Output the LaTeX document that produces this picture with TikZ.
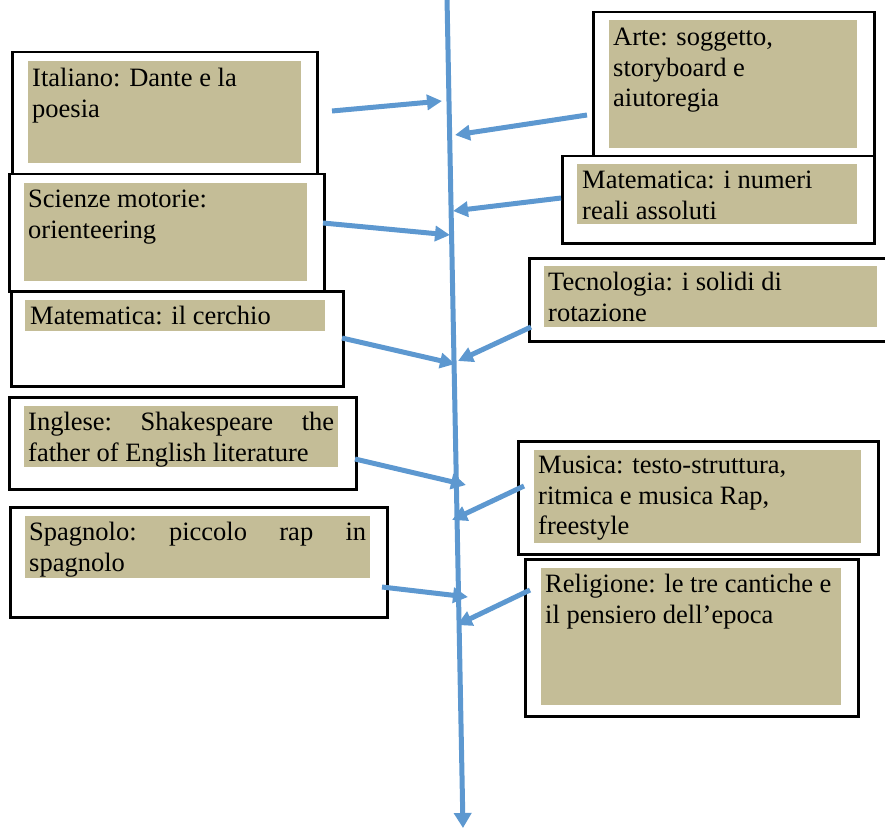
\documentclass[tikz,border=0pt]{standalone}
\usepackage{fontspec}
\setmainfont{Liberation Serif}
\usetikzlibrary{arrows.meta}
\definecolor{tanfill}{RGB}{196,189,151}
\definecolor{arrowblue}{RGB}{93,152,208}
\begin{document}
\begin{tikzpicture}[x=1pt,y=-1pt,
  outerbox/.style={draw=black,line width=2.5pt,fill=white,anchor=north west,inner sep=0pt},
  tanbox/.style={fill=tanfill,anchor=north west,inner sep=0pt},
  label/.style={anchor=north west,inner sep=0pt,align=left,font=\fontsize{26.5}{30.5}\selectfont},
  link/.style={draw=arrowblue,line width=5pt,-{Triangle[length=15pt,width=15pt]}},
  spine/.style={draw=arrowblue,line width=5pt,-{Triangle[length=15pt,width=17pt]}}]
\useasboundingbox (0,0) rectangle (885,829);
% left boxes
\node[outerbox,minimum width=305,minimum height=122] (o1) at (11,51) {};
\node[tanbox,minimum width=273,minimum height=102] (t1) at (28,61) {};
\node[label] (l1) at (32,65) {\strut Italiano: Dante e la\\poesia};
\node[outerbox,minimum width=315,minimum height=117] (o2) at (8,173) {};
\node[tanbox,minimum width=283,minimum height=98] (t2) at (24,183) {};
\node[label] (l2) at (28,186) {\strut Scienze motorie:\\orienteering};
\node[outerbox,minimum width=332,minimum height=95] (o3) at (10,290) {};
\node[tanbox,minimum width=300,minimum height=31] (t3) at (25,300) {};
\node[label] (l3) at (30,303) {\strut Matematica: il cerchio};
\node[outerbox,minimum width=347,minimum height=92] (o4) at (8,396) {};
\node[tanbox,minimum width=314,minimum height=61] (t4) at (24,406) {};
\node[label] (l4) at (28,409) {\strut\hbox to 306pt{Inglese:\hfill Shakespeare\hfill the}\\father of English literature};
\node[outerbox,minimum width=377,minimum height=110] (o5) at (9,506) {};
\node[tanbox,minimum width=345,minimum height=62] (t5) at (25,516) {};
\node[label] (l5) at (29,519) {\strut\hbox to 337pt{Spagnolo:\hfill piccolo\hfill rap\hfill in}\\spagnolo};
% right boxes
\node[outerbox,minimum width=281,minimum height=144] (o6) at (592,11) {};
\node[tanbox,minimum width=248,minimum height=128] (t6) at (609,20) {};
\node[label] (l6) at (613,24) {\strut Arte: soggetto,\\storyboard e\\aiutoregia};
\node[outerbox,minimum width=312,minimum height=87] (o7) at (561,155) {};
\node[tanbox,minimum width=280,minimum height=60] (t7) at (577,164) {};
\node[label] (l7) at (582,167) {\strut Matematica: i numeri\\reali assoluti};
\node[outerbox,minimum width=360,minimum height=83] (o8) at (528,257) {};
\node[tanbox,minimum width=333,minimum height=61] (t8) at (544,266) {};
\node[label] (l8) at (548,269) {\strut Tecnologia: i solidi di\\rotazione};
\node[outerbox,minimum width=360,minimum height=113] (o9) at (517,440) {};
\node[tanbox,minimum width=327,minimum height=93] (t9) at (534,450) {};
\node[label] (l9) at (538,452) {\strut Musica: testo-struttura,\\ritmica e musica Rap,\\freestyle};
\node[outerbox,minimum width=333,minimum height=157] (o10) at (524,558) {};
\node[tanbox,minimum width=300,minimum height=137] (t10) at (541,568) {};
\node[label] (l10) at (545,571) {\strut Religione: le tre cantiche e\\il pensiero dell’epoca};
% spine
\coordinate (top) at (447,-2);
\coordinate (bot) at (463,828);
\draw[spine] (top) -- (bot);
% connectors
\coordinate (s1) at (332,111); \coordinate (e1) at (442,101);
\coordinate (s2) at (323,223); \coordinate (e2) at (450,235);
\coordinate (s3) at (342,338); \coordinate (e3) at (455,364);
\coordinate (s4) at (355,459); \coordinate (e4) at (466,485);
\coordinate (s5) at (382,587); \coordinate (e5) at (468,597);
\coordinate (s6) at (587,115); \coordinate (e6) at (455,135);
\coordinate (s7) at (561,198); \coordinate (e7) at (453,211);
\coordinate (s8) at (531,327); \coordinate (e8) at (458,361);
\coordinate (s9) at (524,486); \coordinate (e9) at (452,520);
\coordinate (s10) at (530,590); \coordinate (e10) at (457,625);
\foreach \i in {1,...,10} {\draw[link] (s\i) -- (e\i);}
\end{tikzpicture}
\end{document}
